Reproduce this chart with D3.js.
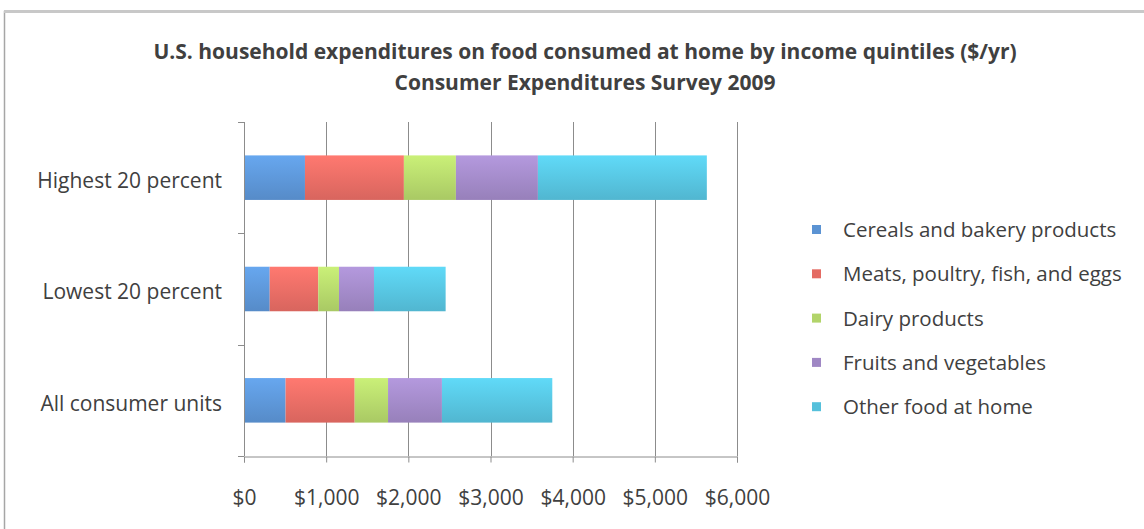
<!DOCTYPE html>
<html lang="en">
  <head>
    <meta charset="utf-8">
    <title>Food at home by income quintile</title>
    <script src="https://d3js.org/d3.v7.min.js"></script>
    <style media="screen" type="text/css">
      body { margin: 0; background: #fff; }
      svg text { font-family: "Open Sans", Lato, sans-serif; fill: #404040; }
    </style>
  </head>
  <body>
    <div id="main"></div>
    <script type="text/javascript">
      // Data ($/yr)
      const groups = ['Highest 20 percent', 'Lowest 20 percent', 'All consumer units'];
      const seriesNames = [
        'Cereals and bakery products',
        'Meats, poultry, fish, and eggs',
        'Dairy products',
        'Fruits and vegetables',
        'Other food at home'
      ];
      const cereals = [742, 313, 506];
      const meats = [1204, 591, 841];
      const dairy = [633, 252, 406];
      const fruits = [998, 426, 656];
      const other = [2056, 872, 1343];
      const xTicks = [0, 1000, 2000, 3000, 4000, 5000, 6000];
      const colors = ['#5b93d3', '#e46b63', '#b2d46a', '#9f87c4', '#55c0db'];

      const W = 1144, H = 529;
      const m = {left: 244, right: 407, top: 122, bottom: 73};

      const svg = d3.select('#main').append('svg')
        .attr('width', W).attr('height', H);

      // chart frame
      svg.append('rect')
        .attr('x', 4.5).attr('y', 11.5)
        .attr('width', W + 10).attr('height', H + 10)
        .attr('fill', '#fff')
        .attr('stroke', '#a6a6a6').attr('stroke-width', 1.5);
      svg.append('line')
        .attr('x1', 4).attr('x2', W).attr('y1', 11.5).attr('y2', 11.5)
        .attr('stroke', '#c8c8c8').attr('stroke-width', 3);

      // gradients, lighter at the top like the old office style
      const defs = svg.append('defs');
      colors.forEach((c, i) => {
        const g = defs.append('linearGradient')
          .attr('id', `grad${i}`)
          .attr('x1', 0).attr('y1', 0).attr('x2', 0).attr('y2', 1);
        g.append('stop').attr('offset', '0%').attr('stop-color', d3.color(c).brighter(0.35));
        g.append('stop').attr('offset', '100%').attr('stop-color', d3.color(c).darker(0.15));
      });

      // title
      const title = svg.append('g').attr('font-weight', 'bold').attr('font-size', 21)
        .attr('text-anchor', 'middle');
      title.append('text').attr('x', 585).attr('y', 59)
        .text('U.S. household expenditures on food consumed at home by income quintiles ($/yr)');
      title.append('text').attr('x', 585).attr('y', 90)
        .text('Consumer Expenditures Survey 2009');

      const x = d3.scaleLinear().domain([0, 6000]).range([m.left, W - m.right]);
      const y = d3.scaleBand().domain(groups)
        .range([m.top, H - m.bottom])
        .paddingInner(0.6).paddingOuter(0.3);

      // grid lines
      svg.append('g').selectAll('line')
        .data(xTicks.slice(1))
        .join('line')
        .attr('x1', d => Math.round(x(d)) + 0.5).attr('x2', d => Math.round(x(d)) + 0.5)
        .attr('y1', m.top).attr('y2', H - m.bottom)
        .attr('stroke', '#8c8c8c').attr('stroke-width', 1);

      // stacked bars
      const rows = groups.map((g, i) => ({
        group: g,
        s0: cereals[i], s1: meats[i], s2: dairy[i], s3: fruits[i], s4: other[i]
      }));
      const stack = d3.stack().keys(['s0', 's1', 's2', 's3', 's4'])(rows);

      svg.append('g').selectAll('g')
        .data(stack)
        .join('g')
        .attr('fill', (d, i) => `url(#grad${i})`)
        .selectAll('rect')
        .data(d => d)
        .join('rect')
        .attr('x', d => x(d[0]))
        .attr('width', d => x(d[1]) - x(d[0]))
        .attr('y', d => y(d.data.group))
        .attr('height', y.bandwidth());

      // x axis
      const xAxis = d3.axisBottom(x)
        .tickValues(xTicks)
        .tickSize(6)
        .tickFormat(d => '$' + d3.format(',')(d));
      const gx = svg.append('g')
        .attr('transform', `translate(0,${H - m.bottom + 0.5})`)
        .call(xAxis);
      gx.select('.domain').attr('stroke', '#8c8c8c');
      gx.selectAll('.tick line').attr('stroke', '#8c8c8c');
      gx.selectAll('.tick text')
        .attr('y', 41).attr('dy', '0.35em')
        .attr('font-size', 21).attr('fill', '#404040')
        .style('font-family', '"Open Sans", sans-serif');

      // y axis: line with ticks at category boundaries
      const gy = svg.append('g');
      gy.append('line')
        .attr('x1', m.left + 0.5).attr('x2', m.left + 0.5)
        .attr('y1', m.top).attr('y2', H - m.bottom)
        .attr('stroke', '#8c8c8c');
      const step = y.step();
      gy.selectAll('.ytick')
        .data(d3.range(groups.length + 1))
        .join('line')
        .attr('class', 'ytick')
        .attr('x1', m.left - 6).attr('x2', m.left)
        .attr('y1', i => Math.round(m.top + i * step) + 0.5)
        .attr('y2', i => Math.round(m.top + i * step) + 0.5)
        .attr('stroke', '#8c8c8c');
      gy.selectAll('text')
        .data(groups)
        .join('text')
        .attr('x', 222)
        .attr('y', d => y(d) + y.bandwidth() / 2 + 3)
        .attr('dy', '0.35em')
        .attr('text-anchor', 'end')
        .attr('font-size', 21)
        .text(d => d);

      // legend
      const legend = svg.append('g')
        .selectAll('g')
        .data(seriesNames)
        .join('g')
        .attr('transform', (d, i) => `translate(812,${230 + i * 44.3})`);
      legend.append('rect')
        .attr('x', 0).attr('y', -5)
        .attr('width', 9).attr('height', 9)
        .attr('fill', (d, i) => colors[i]);
      legend.append('text')
        .attr('x', 31).attr('dy', '0.35em')
        .attr('font-size', 20.5)
        .text(d => d);
    </script>
  </body>
</html>
